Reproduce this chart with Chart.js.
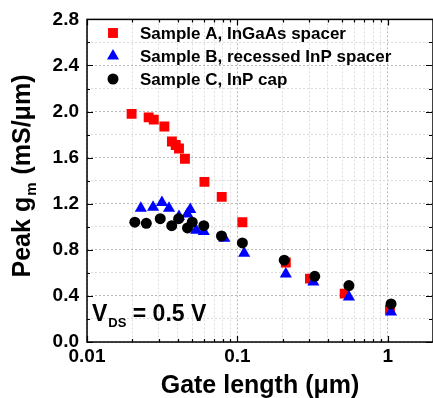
<!DOCTYPE html>
<html>
<head>
<meta charset="utf-8">
<script src="https://cdn.jsdelivr.net/npm/chart.js@4/dist/chart.umd.min.js"></script>
<style>
  html, body { margin: 0; padding: 0; background: #fff; overflow: hidden; }
</style>
</head>
<body>
<canvas id="chart" width="433" height="398"></canvas>
<script>
// ---- data ----
const seriesNames = ['Sample A, InGaAs spacer', 'Sample B, recessed InP spacer', 'Sample C, InP cap'];
const seriesColors = ['#ff0000', '#0000ff', '#000000'];

const lengthA = [0.0198, 0.0257, 0.0278, 0.0327, 0.0367, 0.0389, 0.0409, 0.0448, 0.0604, 0.0787, 0.108, 0.21, 0.304, 0.517, 1.035];
const gmA     = [1.98, 1.95, 1.93, 1.87, 1.74, 1.71, 1.68, 1.59, 1.39, 1.26, 1.04, 0.69, 0.55, 0.42, 0.28];

const lengthB = [0.0228, 0.0275, 0.0315, 0.0351, 0.0409, 0.0465, 0.0486, 0.0532, 0.0598, 0.082, 0.111, 0.21, 0.32, 0.552, 1.052];
const gmB     = [1.16, 1.17, 1.21, 1.16, 1.09, 1.11, 1.15, 0.97, 0.96, 0.90, 0.77, 0.59, 0.52, 0.39, 0.26];

const lengthC = [0.0208, 0.0248, 0.0307, 0.0366, 0.0407, 0.0466, 0.0501, 0.0598, 0.0784, 0.108, 0.205, 0.327, 0.552, 1.052];
const gmC     = [1.04, 1.03, 1.07, 1.01, 1.07, 0.99, 1.04, 1.01, 0.92, 0.86, 0.71, 0.57, 0.49, 0.33];

const xTicks = [0.01, 0.02, 0.03, 0.04, 0.05, 0.06, 0.07, 0.08, 0.09,
                0.1, 0.2, 0.3, 0.4, 0.5, 0.6, 0.7, 0.8, 0.9, 1, 2];
const xTickLabels = { 0.01: '0.01', 0.1: '0.1', 1: '1' };
const yLabelStep = 0.4;

const FONT = '"Liberation Sans", Arial, sans-serif';

function pts(xs, ys) {
    return xs.map((x, i) => ({ x: x, y: ys[i] }));
}

const isMajorY = v => Math.abs(v / yLabelStep - Math.round(v / yLabelStep)) < 1e-6;
const isMajorX = v => xTickLabels[v] !== undefined;

// frame, inward ticks, x tick labels, axis titles, legend, V_DS note
const decorations = {
    id: 'decorations',
    afterDraw(chart) {
        const ctx = chart.ctx;
        const a = chart.chartArea;
        const xs = chart.scales.x, ys = chart.scales.y;
        ctx.save();
        ctx.strokeStyle = '#000';
        ctx.lineWidth = 1.5;
        ctx.strokeRect(a.left, a.top, a.right - a.left, a.bottom - a.top);

        ctx.lineWidth = 1.2;
        ctx.beginPath();
        xTicks.forEach(v => {
            const px = Math.round(xs.getPixelForValue(v)) + 0.5;
            const len = isMajorX(v) ? 6 : 3;
            ctx.moveTo(px, a.bottom); ctx.lineTo(px, a.bottom - len);
            ctx.moveTo(px, a.top); ctx.lineTo(px, a.top + len);
        });
        for (let v = 0; v <= 2.8001; v += 0.2) {
            const py = Math.round(ys.getPixelForValue(v)) + 0.5;
            const len = isMajorY(v) ? 6 : 3;
            ctx.moveTo(a.left, py); ctx.lineTo(a.left + len, py);
            ctx.moveTo(a.right - 1, py); ctx.lineTo(a.right - 1 - len, py);
        }
        ctx.stroke();

        ctx.fillStyle = '#000';
        // x tick labels
        ctx.font = 'bold 19px ' + FONT;
        ctx.textAlign = 'center';
        ctx.textBaseline = 'top';
        Object.keys(xTickLabels).forEach(k => {
            ctx.fillText(xTickLabels[k], xs.getPixelForValue(+k), a.bottom + 5);
        });

        // x title
        ctx.font = 'bold 25px ' + FONT;
        ctx.textBaseline = 'alphabetic';
        ctx.fillText('Gate length (\u03bcm)', 260, 393);

        // y title with subscript
        ctx.save();
        ctx.translate(30, 176);
        ctx.rotate(-Math.PI / 2);
        const p1 = 'Peak g', p2 = 'm', p3 = ' (mS/\u03bcm)';
        ctx.font = 'bold 25px ' + FONT;
        const w1 = ctx.measureText(p1).width, w3 = ctx.measureText(p3).width;
        ctx.font = 'bold 15px ' + FONT;
        const w2 = ctx.measureText(p2).width;
        let x0 = -(w1 + w2 + w3 + 2) / 2;
        ctx.textAlign = 'left';
        ctx.font = 'bold 25px ' + FONT;
        ctx.fillText(p1, x0, 0);
        ctx.font = 'bold 15px ' + FONT;
        ctx.fillText(p2, x0 + w1 + 1, 6);
        ctx.font = 'bold 25px ' + FONT;
        ctx.fillText(p3, x0 + w1 + w2 + 2, 0);
        ctx.restore();

        // V_DS note
        ctx.textAlign = 'left';
        ctx.font = 'bold 23px ' + FONT;
        ctx.fillText('V', 92, 321);
        let vx = 92 + ctx.measureText('V').width;
        ctx.font = 'bold 13px ' + FONT;
        ctx.fillText('DS', vx + 1, 327);
        vx += ctx.measureText('DS').width + 1;
        ctx.font = 'bold 23px ' + FONT;
        ctx.fillText(' = 0.5 V', vx, 321);

        // legend
        ctx.font = 'bold 17px ' + FONT;
        ctx.textBaseline = 'middle';
        chart.data.datasets.forEach((ds, i) => {
            const y = 33 + i * 23;
            ctx.fillStyle = ds.backgroundColor;
            ctx.strokeStyle = ds.borderColor;
            Chart.helpers.drawPoint(ctx, {
                pointStyle: ds.pointStyle, radius: ds.pointRadius, rotation: 0, borderWidth: 0
            }, 113, y);
            ctx.fillStyle = '#000';
            ctx.fillText(ds.label, 140, y + 1);
        });
        ctx.restore();
    }
};

function makeSet(i, xs, ys, style, radius, order) {
    return {
        label: seriesNames[i],
        data: pts(xs, ys),
        backgroundColor: seriesColors[i],
        borderColor: seriesColors[i],
        borderWidth: 0,
        pointStyle: style,
        pointRadius: radius,
        showLine: false,
        order: order
    };
}

new Chart(document.getElementById('chart'), {
    type: 'scatter',
    data: {
        datasets: [
            makeSet(0, lengthA, gmA, 'rect', 7, 3),
            makeSet(1, lengthB, gmB, 'triangle', 7, 2),
            makeSet(2, lengthC, gmC, 'circle', 5.5, 1)
        ]
    },
    options: {
        responsive: false,
        animation: false,
        layout: { autoPadding: false, padding: { top: 16, right: -1, left: 0, bottom: 0 } },
        plugins: { legend: { display: false }, tooltip: { enabled: false } },
        scales: {
            x: {
                type: 'logarithmic',
                min: 0.01,
                max: 2,
                afterBuildTicks: s => { s.ticks = xTicks.map(v => ({ value: v })); },
                afterFit: s => { s.height = 56; },
                ticks: { display: false },
                grid: {
                    drawTicks: false,
                    color: c => isMajorX(c.tick.value) ? '#b8b8b8' : '#dcdcdc',
                    lineWidth: 1
                },
                border: { display: false, dash: [2, 2] }
            },
            y: {
                min: 0,
                max: 2.8,
                afterBuildTicks: s => {
                    const t = [];
                    for (let k = 0; k <= 14; k++) t.push({ value: +(k * 0.2).toFixed(1) });
                    s.ticks = t;
                },
                afterFit: s => { s.width = 87; },
                ticks: {
                    autoSkip: false,
                    padding: 8,
                    color: '#000',
                    font: { family: FONT, size: 19, weight: 'bold' },
                    callback: v => isMajorY(v) ? v.toFixed(1) : ''
                },
                grid: {
                    drawTicks: false,
                    color: c => isMajorY(c.tick.value) ? '#b8b8b8' : '#dcdcdc',
                    lineWidth: 1
                },
                border: { display: false, dash: [2, 2] }
            }
        }
    },
    plugins: [decorations]
});
</script>
</body>
</html>
